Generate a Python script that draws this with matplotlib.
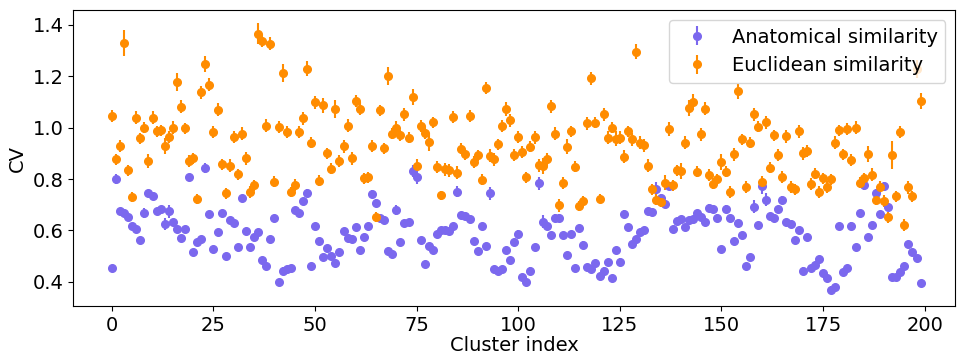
import numpy as np
import matplotlib
matplotlib.use('Agg')
import matplotlib.pyplot as plt

# CV per cluster
anat_cv = [
    0.455, 0.799, 0.676, 0.666, 0.654, 0.616, 0.605, 0.563, 0.667, 0.747,
    0.732, 0.674, 0.683, 0.625, 0.674, 0.631, 0.605, 0.569, 0.605, 0.806,
    0.515, 0.554, 0.566, 0.842, 0.663, 0.528, 0.595, 0.667, 0.502, 0.640,
    0.629, 0.537, 0.725, 0.599, 0.534, 0.576, 0.592, 0.486, 0.463, 0.566,
    0.648, 0.399, 0.444, 0.450, 0.453, 0.679, 0.666, 0.715, 0.745, 0.461,
    0.616, 0.558, 0.495, 0.530, 0.499, 0.474, 0.515, 0.599, 0.569, 0.566,
    0.612, 0.525, 0.576, 0.618, 0.741, 0.706, 0.647, 0.641, 0.519, 0.508,
    0.679, 0.556, 0.627, 0.634, 0.831, 0.806, 0.564, 0.470, 0.541, 0.525,
    0.586, 0.603, 0.603, 0.599, 0.616, 0.751, 0.661, 0.657, 0.644, 0.560,
    0.521, 0.616, 0.538, 0.745, 0.450, 0.444, 0.450, 0.525, 0.486, 0.554,
    0.588, 0.418, 0.399, 0.444, 0.534, 0.784, 0.634, 0.616, 0.583, 0.650,
    0.650, 0.582, 0.506, 0.586, 0.453, 0.608, 0.545, 0.459, 0.450, 0.472,
    0.422, 0.444, 0.476, 0.414, 0.525, 0.479, 0.663, 0.612, 0.547, 0.566,
    0.595, 0.601, 0.674, 0.670, 0.760, 0.728, 0.702, 0.773, 0.605, 0.638,
    0.644, 0.612, 0.641, 0.644, 0.667, 0.654, 0.634, 0.689, 0.683, 0.650,
    0.528, 0.683, 0.647, 0.558, 0.627, 0.583, 0.463, 0.495, 0.693, 0.621,
    0.773, 0.719, 0.657, 0.650, 0.683, 0.719, 0.634, 0.625, 0.563, 0.601,
    0.444, 0.576, 0.453, 0.466, 0.489, 0.434, 0.414, 0.370, 0.379, 0.616,
    0.437, 0.453, 0.616, 0.537, 0.666, 0.776, 0.573, 0.621, 0.747, 0.663,
    0.773, 0.693, 0.418, 0.418, 0.437, 0.461, 0.547, 0.515, 0.492, 0.396,
]
anat_err = [
    0.012, 0.020, 0.012, 0.012, 0.012, 0.012, 0.012, 0.012, 0.020, 0.012,
    0.012, 0.012, 0.012, 0.025, 0.025, 0.012, 0.012, 0.012, 0.012, 0.015,
    0.012, 0.012, 0.012, 0.020, 0.012, 0.012, 0.012, 0.012, 0.012, 0.012,
    0.012, 0.012, 0.012, 0.012, 0.012, 0.012, 0.012, 0.012, 0.012, 0.012,
    0.012, 0.012, 0.012, 0.012, 0.012, 0.012, 0.012, 0.012, 0.015, 0.012,
    0.012, 0.012, 0.012, 0.012, 0.012, 0.012, 0.012, 0.012, 0.012, 0.012,
    0.012, 0.012, 0.012, 0.012, 0.015, 0.015, 0.012, 0.012, 0.012, 0.012,
    0.018, 0.012, 0.012, 0.012, 0.025, 0.025, 0.012, 0.012, 0.012, 0.012,
    0.012, 0.012, 0.012, 0.012, 0.012, 0.020, 0.012, 0.012, 0.012, 0.012,
    0.012, 0.012, 0.012, 0.025, 0.012, 0.012, 0.012, 0.012, 0.012, 0.012,
    0.012, 0.012, 0.012, 0.012, 0.012, 0.025, 0.025, 0.012, 0.012, 0.015,
    0.015, 0.012, 0.012, 0.012, 0.012, 0.012, 0.012, 0.012, 0.012, 0.012,
    0.012, 0.012, 0.012, 0.012, 0.012, 0.012, 0.015, 0.012, 0.012, 0.012,
    0.012, 0.012, 0.012, 0.012, 0.030, 0.015, 0.012, 0.015, 0.012, 0.012,
    0.012, 0.012, 0.012, 0.012, 0.012, 0.012, 0.012, 0.012, 0.012, 0.012,
    0.012, 0.015, 0.012, 0.012, 0.012, 0.012, 0.012, 0.012, 0.025, 0.012,
    0.030, 0.025, 0.012, 0.012, 0.012, 0.015, 0.012, 0.012, 0.012, 0.012,
    0.012, 0.012, 0.012, 0.012, 0.012, 0.012, 0.012, 0.012, 0.012, 0.012,
    0.012, 0.012, 0.015, 0.012, 0.012, 0.020, 0.012, 0.012, 0.015, 0.012,
    0.015, 0.012, 0.012, 0.012, 0.012, 0.012, 0.012, 0.012, 0.012, 0.012,
]
eucl_cv = [
    1.045, 0.877, 0.928, 1.329, 0.834, 0.731, 1.038, 0.958, 1.000, 0.870,
    1.038, 0.986, 0.990, 0.928, 0.963, 1.000, 1.176, 1.081, 0.997, 0.870,
    0.880, 0.722, 1.138, 1.247, 1.166, 0.983, 1.070, 0.857, 0.744, 0.851,
    0.963, 0.818, 0.976, 0.880, 0.750, 0.776, 1.365, 1.338, 1.008, 1.327,
    0.790, 1.002, 1.213, 0.983, 0.750, 0.777, 0.983, 1.037, 1.229, 0.941,
    1.099, 0.793, 1.086, 0.900, 0.840, 1.074, 0.870, 0.928, 1.008, 0.880,
    1.103, 1.073, 0.803, 0.806, 0.928, 0.653, 1.067, 0.919, 1.200, 0.976,
    1.000, 0.970, 1.051, 0.961, 1.119, 0.851, 1.006, 0.980, 0.944, 1.021,
    0.847, 0.737, 0.838, 0.834, 1.041, 0.825, 0.918, 0.896, 1.045, 0.866,
    0.892, 0.797, 1.154, 0.890, 0.877, 0.935, 1.006, 1.073, 1.029, 0.893,
    0.963, 0.905, 0.806, 0.926, 0.963, 0.853, 0.851, 0.877, 1.083, 0.977,
    0.698, 0.784, 0.926, 0.986, 0.848, 0.696, 0.715, 1.016, 1.191, 1.019,
    0.724, 1.051, 0.961, 1.000, 0.957, 0.961, 0.886, 0.986, 0.954, 1.296,
    0.941, 0.931, 0.851, 0.760, 0.719, 0.711, 0.786, 0.995, 0.776, 0.834,
    0.831, 0.941, 1.077, 1.099, 0.829, 0.974, 1.073, 0.816, 0.782, 0.799,
    0.866, 0.829, 0.750, 0.896, 1.141, 0.954, 0.769, 0.941, 1.051, 1.003,
    0.789, 1.021, 0.844, 0.970, 0.893, 0.808, 0.967, 0.769, 0.760, 0.986,
    0.900, 0.909, 0.780, 0.821, 0.750, 0.802, 0.769, 0.799, 0.941, 0.990,
    0.896, 0.995, 0.874, 1.000, 0.786, 0.802, 0.898, 0.816, 0.719, 0.767,
    0.715, 0.651, 0.893, 0.732, 0.983, 0.621, 0.767, 0.732, 1.228, 1.103,
]
eucl_err = [
    0.022, 0.022, 0.022, 0.050, 0.022, 0.020, 0.025, 0.022, 0.022, 0.028,
    0.025, 0.022, 0.022, 0.030, 0.022, 0.025, 0.035, 0.025, 0.022, 0.022,
    0.022, 0.018, 0.025, 0.030, 0.025, 0.022, 0.025, 0.022, 0.020, 0.025,
    0.022, 0.022, 0.025, 0.025, 0.022, 0.022, 0.040, 0.025, 0.025, 0.025,
    0.022, 0.022, 0.035, 0.022, 0.020, 0.022, 0.025, 0.025, 0.030, 0.022,
    0.025, 0.022, 0.030, 0.022, 0.022, 0.035, 0.022, 0.025, 0.025, 0.025,
    0.022, 0.025, 0.022, 0.022, 0.022, 0.020, 0.022, 0.022, 0.035, 0.022,
    0.025, 0.022, 0.025, 0.022, 0.030, 0.025, 0.025, 0.025, 0.035, 0.022,
    0.022, 0.018, 0.025, 0.025, 0.025, 0.025, 0.022, 0.022, 0.025, 0.022,
    0.022, 0.022, 0.025, 0.025, 0.025, 0.022, 0.022, 0.028, 0.025, 0.022,
    0.022, 0.022, 0.022, 0.022, 0.025, 0.025, 0.030, 0.025, 0.025, 0.025,
    0.025, 0.022, 0.030, 0.022, 0.022, 0.020, 0.020, 0.025, 0.025, 0.022,
    0.018, 0.025, 0.025, 0.022, 0.030, 0.025, 0.025, 0.022, 0.025, 0.030,
    0.025, 0.025, 0.025, 0.022, 0.022, 0.020, 0.028, 0.028, 0.022, 0.022,
    0.030, 0.025, 0.030, 0.030, 0.022, 0.025, 0.025, 0.022, 0.022, 0.022,
    0.030, 0.022, 0.022, 0.025, 0.030, 0.022, 0.025, 0.022, 0.025, 0.022,
    0.022, 0.025, 0.022, 0.022, 0.022, 0.022, 0.025, 0.022, 0.022, 0.025,
    0.025, 0.025, 0.022, 0.022, 0.022, 0.022, 0.022, 0.022, 0.025, 0.022,
    0.022, 0.022, 0.025, 0.025, 0.022, 0.022, 0.030, 0.025, 0.022, 0.025,
    0.022, 0.022, 0.055, 0.022, 0.025, 0.025, 0.025, 0.022, 0.035, 0.030,
]

cluster_idx = np.arange(len(anat_cv))

plt.figure(figsize=(9.58, 3.58), dpi=100)
plt.errorbar(cluster_idx, anat_cv, yerr=anat_err, fmt='o', markersize=5.5,
             color='mediumslateblue', label='Anatomical similarity')
plt.errorbar(cluster_idx, eucl_cv, yerr=eucl_err, fmt='o', markersize=5.5,
             color='darkorange', label='Euclidean similarity')
plt.xlim(-9.5, 207.5)
plt.xlabel('Cluster index', fontsize=14, labelpad=1)
plt.ylabel('CV', fontsize=14)
plt.xticks(fontsize=14)
plt.yticks(fontsize=14)
plt.legend(loc='upper right', fontsize=14)
plt.subplots_adjust(left=0.0765, right=0.997, top=0.972, bottom=0.145)
plt.savefig('out.png', dpi=100)
